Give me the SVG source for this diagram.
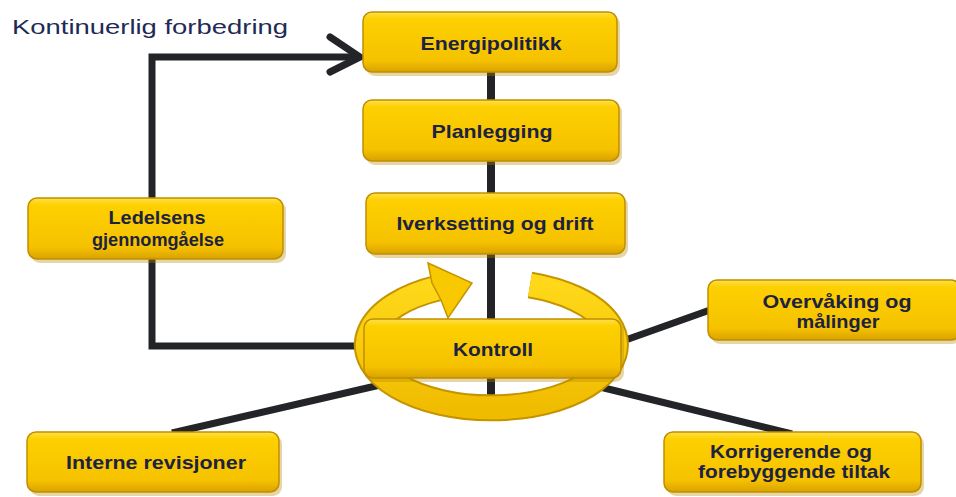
<svg xmlns="http://www.w3.org/2000/svg" width="956" height="497" viewBox="0 0 956 497">
<defs>
<linearGradient id="gold" x1="0" y1="0" x2="0" y2="1">
<stop offset="0" stop-color="#ffe04a"/>
<stop offset="0.12" stop-color="#fdd000"/>
<stop offset="0.8" stop-color="#f6c200"/>
<stop offset="1" stop-color="#d9a200"/>
</linearGradient>
<linearGradient id="ringg" x1="0" y1="0" x2="0" y2="1">
<stop offset="0" stop-color="#ffd81a"/>
<stop offset="1" stop-color="#f0bc00"/>
</linearGradient>
<style>
.box{fill:url(#gold);stroke:#c08e00;stroke-width:1.5}
.sh{fill:#b88a00;opacity:0.35}
.lbl{font-family:"Liberation Sans",Arial,sans-serif;font-weight:bold;font-size:19px;fill:#1c2240;text-anchor:middle}
.ln{stroke:#222428;stroke-width:7;fill:none;stroke-linecap:butt;stroke-linejoin:miter}
</style>
</defs>
<rect width="956" height="497" fill="#ffffff"/>
<text x="12" y="34" font-family="Liberation Sans,Arial,sans-serif" font-size="21" fill="#1f2a55" textLength="276" lengthAdjust="spacingAndGlyphs">Kontinuerlig forbedring</text>
<g id="connectors">
<line class="ln" x1="491" y1="72" x2="491" y2="398" style="stroke-width:8"/>
<polyline class="ln" points="364,346 152,346 152,57 356,57"/>
<polyline class="ln" points="330,37 360,57 330,72" style="stroke-linecap:round"/>
<line class="ln" x1="620" y1="342" x2="710" y2="310"/>
<line class="ln" x1="380" y1="385" x2="172" y2="433"/>
<line class="ln" x1="600" y1="387" x2="792" y2="434"/>
</g>
<g id="cycle">
<path d="M530 285 A124 63 0 1 1 438 288" fill="none" stroke="#c49400" stroke-width="27"/>
<path d="M530 285 A124 63 0 1 1 438 288" fill="none" stroke="url(#ringg)" stroke-width="23"/>
<polygon points="428,263 472,283 448,318 441,300 432,283" fill="#f8c800" stroke="#c49400" stroke-width="1.5"/>
</g>
<g id="energipolitikk">
<rect class="sh" x="366" y="15" width="254" height="61" rx="9"/>
<rect class="box" x="363" y="12" width="254" height="60" rx="9"/>
<text class="lbl" x="491" y="50" textLength="141" lengthAdjust="spacingAndGlyphs">Energipolitikk</text>
</g>
<g id="planlegging">
<rect class="sh" x="366" y="103" width="256" height="62" rx="9"/>
<rect class="box" x="363" y="100" width="256" height="61" rx="9"/>
<text class="lbl" x="492" y="138" textLength="121" lengthAdjust="spacingAndGlyphs">Planlegging</text>
</g>
<g id="iverksetting">
<rect class="sh" x="369" y="196" width="259" height="62" rx="9"/>
<rect class="box" x="366" y="193" width="259" height="61" rx="9"/>
<text class="lbl" x="495" y="230" textLength="197" lengthAdjust="spacingAndGlyphs">Iverksetting og drift</text>
</g>
<g id="kontroll">
<rect class="sh" x="367" y="322" width="257" height="60" rx="9"/>
<rect class="box" x="364" y="319" width="257" height="59" rx="9"/>
<text class="lbl" x="493" y="356" textLength="80" lengthAdjust="spacingAndGlyphs">Kontroll</text>
</g>
<g id="ledelsens">
<rect class="sh" x="31" y="201" width="255" height="62" rx="9"/>
<rect class="box" x="28" y="198" width="255" height="61" rx="9"/>
<text class="lbl" x="157" y="224" textLength="97" lengthAdjust="spacingAndGlyphs">Ledelsens</text>
<text class="lbl" x="158" y="246" textLength="132" lengthAdjust="spacingAndGlyphs">gjennomgåelse</text>
</g>
<g id="overvaking">
<rect class="sh" x="711" y="283" width="250" height="61" rx="9"/>
<rect class="box" x="708" y="280" width="252" height="60" rx="9"/>
<text class="lbl" x="837" y="308" textLength="149" lengthAdjust="spacingAndGlyphs">Overvåking og</text>
<text class="lbl" x="838" y="328" textLength="83" lengthAdjust="spacingAndGlyphs">målinger</text>
</g>
<g id="interne">
<rect class="sh" x="30" y="435" width="252" height="61" rx="9"/>
<rect class="box" x="27" y="432" width="252" height="60" rx="9"/>
<text class="lbl" x="156" y="469" textLength="180" lengthAdjust="spacingAndGlyphs">Interne revisjoner</text>
</g>
<g id="korrigerende">
<rect class="sh" x="667" y="435" width="257" height="61" rx="9"/>
<rect class="box" x="664" y="432" width="257" height="60" rx="9"/>
<text class="lbl" x="791" y="458" textLength="162" lengthAdjust="spacingAndGlyphs">Korrigerende og</text>
<text class="lbl" x="794" y="478" textLength="192" lengthAdjust="spacingAndGlyphs">forebyggende tiltak</text>
</g>
</svg>
